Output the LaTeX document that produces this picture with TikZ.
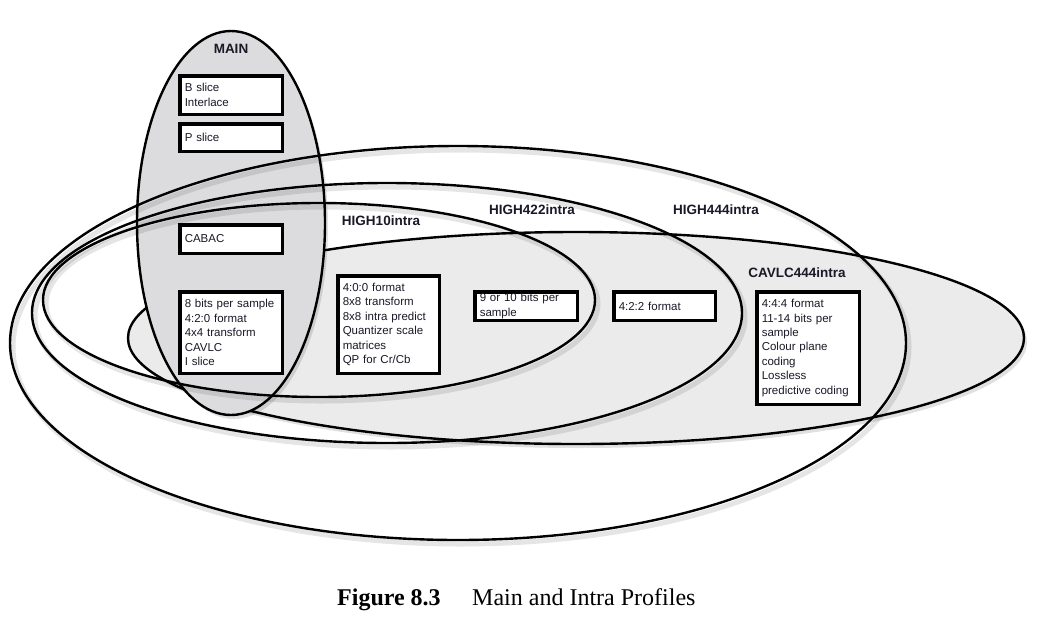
\documentclass[tikz,border=0pt]{standalone}
\usepackage{fontspec}
\setmainfont{Liberation Serif}
\newfontfamily\boxfont{Liberation Sans}
\definecolor{mainfill}{RGB}{220,220,222}
\definecolor{cavfill}{RGB}{235,235,235}
\definecolor{inktext}{RGB}{25,25,40}
\begin{document}
\begin{tikzpicture}[x=1pt,y=-1pt,
  ring/.style={line width=2.4pt, draw=black},
  ringshadow/.style={line width=5pt, draw=black, opacity=0.10},
  fillshadow/.style={fill=black, opacity=0.12},
  infobox/.style={draw=black, line width=3.5pt, fill=white, inner xsep=5pt, inner ysep=0pt,
    align=left, text=inktext, font=\boxfont\fontsize{11.5}{14.4}\selectfont},
  tag/.style={font=\boxfont\bfseries\fontsize{13.5}{16}\selectfont, inner sep=0pt, text=inktext}]
\useasboundingbox (0,0) rectangle (1043,635);
\fill[white] (0,0) rectangle (1043,635);

% CAVLC444intra (filled)
\fill[fillshadow] (579,342) ellipse [x radius=448, y radius=106];
\filldraw[ring, fill=cavfill] (576,338) ellipse [x radius=448, y radius=106];

% MAIN (filled)
\fill[fillshadow] (234,227) ellipse [x radius=94, y radius=192];
\filldraw[ring, fill=mainfill] (231,223) ellipse [x radius=94, y radius=192];

% HIGH444intra, HIGH422intra, HIGH10intra (outlines)
\draw[ringshadow] (461,347) ellipse [x radius=448, y radius=197];
\draw[ringshadow] (390,317) ellipse [x radius=355, y radius=130];
\draw[ringshadow] (322,304) ellipse [x radius=276, y radius=97];
\draw[ring] (458,343) ellipse [x radius=448, y radius=197];
\draw[ring] (387,313) ellipse [x radius=355, y radius=130];
\draw[ring] (319,300) ellipse [x radius=276, y radius=97];

% boxes
\node[infobox, minimum width=102.5pt, minimum height=38.5pt, text width=92.5pt] (bslice) at (231,95) {B slice\\Interlace};
\node[infobox, minimum width=102.5pt, minimum height=27.5pt, text width=92.5pt] (pslice) at (231,137.5) {P slice};
\node[infobox, minimum width=102.5pt, minimum height=28.5pt, text width=92.5pt] (cabac) at (231,239) {CABAC};
\node[infobox, minimum width=102.5pt, minimum height=81.5pt, text width=92.5pt] (base) at (231,332.5) {8 bits per sample\\4:2:0 format\\4x4 transform\\CAVLC\\I slice};
\node[infobox, minimum width=101.5pt, minimum height=97.5pt, text width=91.5pt] (hten) at (388.5,324.5) {4:0:0 format\\8x8 transform\\8x8 intra predict\\Quantizer scale\\matrices\\QP for Cr/Cb};
\node[infobox, minimum width=102.5pt, minimum height=28.5pt, text width=92.5pt] (bits) at (526,306) {9 or 10 bits per\\sample};
\node[infobox, minimum width=101.5pt, minimum height=28.5pt, text width=91.5pt] (fmt) at (664.5,306) {4:2:2 format};
\node[infobox, minimum width=102.5pt, minimum height=112.5pt, text width=92.5pt] (cav) at (808,348) {4:4:4 format\\11-14 bits per\\sample\\Colour plane\\coding\\Lossless\\predictive coding};

% labels
\node[tag] (lmain) at (231,49) {MAIN};
\node[tag] (lh10) at (381,221) {HIGH10intra};
\node[tag] (lh422) at (532,210) {HIGH422intra};
\node[tag] (lh444) at (716,210) {HIGH444intra};
\node[tag] (lcav) at (797,273) {CAVLC444intra};

% caption
\node[anchor=base west, inner sep=0pt, font=\bfseries\fontsize{24}{28}\selectfont] (fig) at (337,605) {Figure 8.3};
\node[anchor=base west, inner sep=0pt, font=\fontsize{24}{28}\selectfont] (cap) at (472,605) {Main and Intra Profiles};
\end{tikzpicture}
\end{document}
